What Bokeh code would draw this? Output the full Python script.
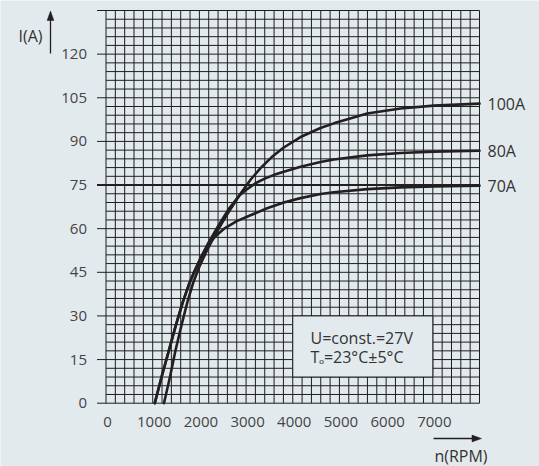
from bokeh.plotting import figure
from bokeh.models import Range1d
from bokeh.core.properties import value
from bokeh.embed import file_html
from bokeh.resources import INLINE

# ---------------- data ----------------
series_names = ["100A", "80A", "70A"]

rpm_100 = [1242, 1370, 1488, 1620, 1752, 1870, 1988, 2131, 2290, 2480, 2690, 2880, 3100,
           3309, 3550, 3808, 4166, 4594, 4879, 5594, 6308, 7021, 8000]
amp_100 = [0, 9, 18.1, 27, 35.3, 41.5, 46.5, 51.5, 56.5, 61.8, 67.3, 72.0, 76.9,
           80.8, 84.6, 87.9, 91.5, 94.6, 96.2, 99.6, 101.3, 102.3, 103.0]

rpm_80 = [1045, 1190, 1345, 1500, 1640, 1780, 1900, 2030, 2190, 2420, 2640, 2850, 3024,
          3200, 3400, 3600, 3808, 4166, 4594, 4879, 5594, 6308, 7021, 8000]
amp_80 = [0, 9, 18, 27, 34.5, 41, 45.5, 50, 55, 61.4, 67.0, 71.3, 73.6,
          75.6, 77.2, 78.5, 79.6, 81.3, 82.9, 83.8, 85.2, 86.0, 86.5, 86.8]

rpm_70 = [1045, 1190, 1345, 1500, 1640, 1780, 1900, 2030, 2120, 2220, 2350, 2523, 2800,
          3095, 3450, 3808, 4166, 4594, 4879, 5594, 6308, 7021, 8000]
amp_70 = [0, 9, 18, 27, 34.5, 41, 45.5, 50, 52.6, 55.0, 57.5, 59.9, 62.6,
          64.6, 67.0, 69.0, 70.5, 71.9, 72.5, 73.6, 74.2, 74.5, 74.8]

x_ticks = [0, 1000, 2000, 3000, 4000, 5000, 6000, 7000]
x_tick_labels = ["0", "1000", "2000", "3000", "4000", "5000", "6000", "7000"]
y_ticks = [0, 15, 30, 45, 60, 75, 90, 105, 120, 135]
y_tick_labels = ["0", "15", "30", "45", "60", "75", "90", "105", "120", ""]
x_grid_step = 200
y_grid_step = 3
x_max = 8000
y_max = 135
ref_current = 75
note_lines = ["U=const.=27V", "T\u2092=23\u00b0C\u00b15\u00b0C"]
x_title = "n(RPM)"
y_title = "I(A)"

# ---------------- layout (pixels) ----------------
W, H = 539, 466
FX0, FX1 = 105.5, 479.0      # plot area left/right in px
FY0, FY1 = 402.7, 10.0       # plot area bottom/top in px (from top)
sx = (FX1 - FX0) / x_max     # px per rpm
sy = (FY0 - FY1) / y_max     # px per amp


def dx(px):      # page px -> data x
    return (px - FX0) / sx


def dy(py):      # page px (from top) -> data y
    return (FY0 - py) / sy


BG = "#e3eaee"
INK = "#231f20"
GRID = "#1e1e1e"
TXT = "#333333"
TICK_TXT = "#444444"
FONT = "Open Sans"

p = figure(width=W, height=H, output_backend="svg", toolbar_location=None,
           x_axis_type=None, y_axis_type=None,
           x_range=Range1d(dx(0), dx(W)), y_range=Range1d(dy(H), dy(0)),
           min_border=0, min_border_left=0, min_border_right=0,
           min_border_top=0, min_border_bottom=0)
p.background_fill_color = BG
p.border_fill_color = BG
p.outline_line_color = None

# grid
gx = list(range(0, x_max + 1, x_grid_step))
gy = list(range(0, y_max + 1, y_grid_step))
p.segment(x0=gx, y0=[0] * len(gx), x1=gx, y1=[y_max] * len(gx),
          line_color=GRID, line_width=1)
p.segment(x0=[0] * len(gy), y0=gy, x1=[x_max] * len(gy), y1=gy,
          line_color=GRID, line_width=1)

# y ticks (outward) and labels
tick_len = 9 / sx
p.segment(x0=[-tick_len] * len(y_ticks), y0=y_ticks, x1=[0] * len(y_ticks), y1=y_ticks,
          line_color=GRID, line_width=1)
p.text(x=[dx(86.5)] * len(y_ticks), y=y_ticks, text=y_tick_labels,
       text_align="right", text_baseline="middle", text_font=value(FONT),
       text_font_size="15px", text_color=TICK_TXT)

# x labels
p.text(x=x_ticks, y=[dy(421.5)] * len(x_ticks), text=x_tick_labels, x_offset=1.5,
       text_align="center", text_baseline="middle", text_font=value(FONT),
       text_font_size="15px", text_color=TICK_TXT)

# reference line at 75 A
p.segment(x0=[-tick_len], y0=[ref_current], x1=[x_max], y1=[ref_current],
          line_color=INK, line_width=2)

# curves
for xs, ys in ((rpm_100, amp_100), (rpm_80, amp_80), (rpm_70, amp_70)):
    p.line(xs, ys, line_color=INK, line_width=2.6, line_join="round", line_cap="round")

# series labels at curve ends
p.text(x=[rpm_100[-1], rpm_80[-1], rpm_70[-1]], y=[amp_100[-1], amp_80[-1], amp_70[-1]],
       text=series_names, x_offset=8, text_align="left", text_baseline="middle",
       text_font=value(FONT), text_font_size="16px", text_color=TXT)

# note box
p.quad(left=[4000], right=[7000], bottom=[9], top=[30], fill_color=BG, fill_alpha=1,
       line_color=INK, line_width=1)
p.text(x=[dx(310)] * 2, y=[dy(337.3), dy(356.7)], text=note_lines,
       text_align="left", text_baseline="middle", text_font=value(FONT),
       text_font_size="16px", text_color=TXT)

# y title with upward arrow
p.text(x=[dx(30)], y=[dy(35)], text=[y_title], text_align="center", text_baseline="middle",
       text_font=value(FONT), text_font_size="16px", text_color=TXT)
ax = dx(50)
p.segment(x0=[ax], y0=[dy(53)], x1=[ax], y1=[dy(18)], line_color=INK, line_width=1.3)
p.patch(x=[ax, ax - 3.4 / sx, ax + 3.4 / sx], y=[dy(10.5), dy(20), dy(20)],
        fill_color=INK, line_color=INK, line_width=0.5)

# x title with rightward arrow
ay = dy(438)
p.segment(x0=[dx(433)], y0=[ay], x1=[dx(473)], y1=[ay], line_color=INK, line_width=1.3)
p.patch(x=[dx(481), dx(471.5), dx(471.5)], y=[ay, ay + 3.4 / sy, ay - 3.4 / sy],
        fill_color=INK, line_color=INK, line_width=0.5)
p.text(x=[dx(460.5)], y=[dy(455.5)], text=[x_title], text_align="center",
       text_baseline="middle", text_font=value(FONT), text_font_size="16px", text_color=TXT)

html = file_html(p, INLINE)
html = html.replace("<body>", '<body style="background-color:%s;">' % BG, 1)
open("out.html", "w").write(html)
